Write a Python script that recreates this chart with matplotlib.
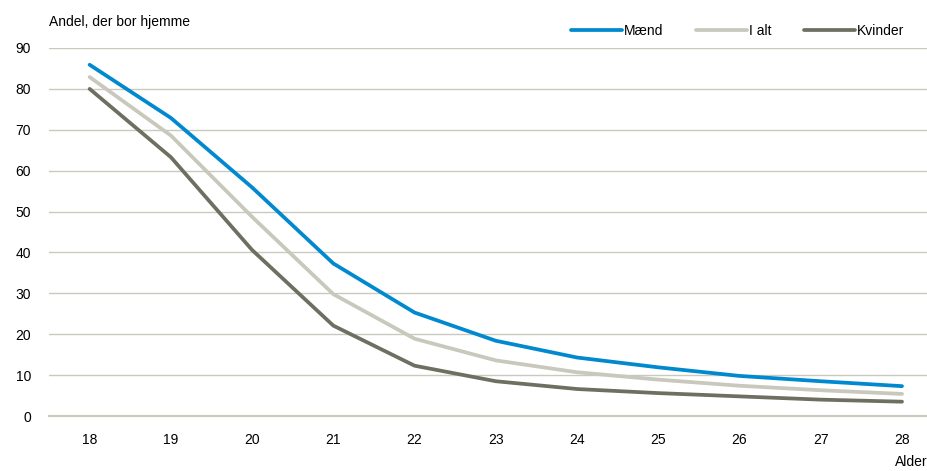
import matplotlib.pyplot as plt

# Andel der bor hjemme, efter alder og køn
alder = [18, 19, 20, 21, 22, 23, 24, 25, 26, 27, 28]
maend = [85.9, 72.9, 55.9, 37.3, 25.3, 18.4, 14.3, 11.9, 9.8, 8.5, 7.3]
i_alt = [82.9, 68.6, 48.7, 29.8, 18.9, 13.6, 10.7, 8.9, 7.4, 6.3, 5.4]
kvinder = [80.0, 63.3, 40.6, 22.1, 12.3, 8.5, 6.6, 5.6, 4.8, 4.0, 3.5]

plt.rcParams['font.family'] = ['Liberation Sans Narrow', 'Liberation Sans', 'DejaVu Sans']

fig = plt.figure(figsize=(9.28, 4.71), dpi=100)
ax = fig.add_axes([49 / 928, 1 - 416 / 471, 1 - 49 / 928, 368 / 471])

grid_c = '#c9c9bd'
ax.plot(alder, maend, color='#0089cf', lw=2.7, label='Mænd', solid_capstyle='round')
ax.plot(alder, i_alt, color='#c8c8bc', lw=2.7, label='I alt', solid_capstyle='round')
ax.plot(alder, kvinder, color='#6f6f61', lw=2.7, label='Kvinder', solid_capstyle='round')

ax.set_xlim(17.5, 28.32)
ax.set_ylim(0, 90)
ax.set_xticks(alder)
ax.set_yticks(range(0, 91, 10))
ax.yaxis.grid(True, color=grid_c, lw=1)
ax.set_axisbelow(True)
for s in ['top', 'right', 'left']:
    ax.spines[s].set_visible(False)
ax.spines['bottom'].set_color(grid_c)
ax.spines['bottom'].set_linewidth(1.5)
ax.tick_params(axis='both', length=0, labelsize=10, colors='#000000')
ax.tick_params(axis='y', pad=13)
ax.tick_params(axis='x', pad=12)

fig.text(49 / 928, 1 - 22 / 471, 'Andel, der bor hjemme', fontsize=10, va='center', ha='left')
fig.text(928 / 928, 1 - 462 / 471, 'Alder', fontsize=10, va='center', ha='right')

leg = ax.legend(loc='center right', bbox_to_anchor=(1 - 18 / 879, 1 + 17 / 368), ncol=3,
                frameon=False, fontsize=10, handlelength=3.7, handletextpad=0.15,
                columnspacing=2.3, borderaxespad=0)

fig.savefig('out.png', dpi=100)
